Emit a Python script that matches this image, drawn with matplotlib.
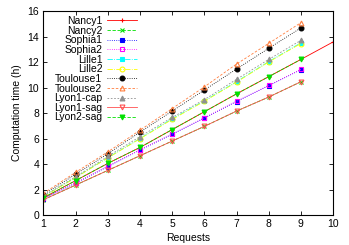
import matplotlib.pyplot as plt

# =========================
# DATA
# =========================

REQUESTS = [1, 2, 3, 4, 5, 6, 7, 8, 9]
REQUESTS_NANCY1 = [1, 2, 3, 4, 5, 6, 7, 8, 9, 10]

NANCY1 = [1.35, 2.7, 4.05, 5.3, 6.7, 8.1, 9.5, 10.85, 12.2, 13.57]
NANCY2 = [1.2, 2.35, 3.5, 4.65, 5.8, 6.95, 8.15, 9.25, 10.45]
SOPHIA1 = [1.28, 2.5, 3.8, 5.1, 6.33, 7.6, 8.9, 10.14, 11.4]
SOPHIA2 = [1.3, 2.52, 3.82, 5.12, 6.35, 7.62, 8.92, 10.16, 11.42]
LILLE1 = [1.45, 2.95, 4.5, 6.0, 7.55, 8.95, 10.46, 12.03, 13.5]
LILLE2 = [1.44, 2.93, 4.48, 5.98, 7.5, 8.92, 10.42, 12.0, 13.45]
TOULOUSE1 = [1.6, 3.2, 4.8, 6.5, 8.15, 9.8, 11.45, 13.07, 14.67]
TOULOUSE2 = [1.7, 3.35, 4.95, 6.65, 8.35, 10.05, 11.84, 13.46, 15.08]
LYON1_CAP = [1.5, 3.0, 4.6, 6.15, 7.65, 9.05, 10.64, 12.2, 13.7]
LYON1_SAG = [1.2, 2.35, 3.5, 4.65, 5.8, 6.95, 8.15, 9.25, 10.45]
LYON2_SAG = [1.35, 2.7, 4.05, 5.3, 6.7, 8.1, 9.5, 10.85, 12.2]

# =========================
# PLOT
# =========================

plt.rcParams["font.family"] = ["Liberation Sans", "DejaVu Sans"]

fig = plt.figure(figsize=(3.49, 2.45), dpi=100)
ax = fig.add_axes([0.1246, 0.1224, 0.8296, 0.8327])

ms = 3.5
lw = 0.6

series = [
    (REQUESTS_NANCY1, NANCY1, "Nancy1", "#ff0000", "-", "+", "full"),
    (REQUESTS, NANCY2, "Nancy2", "#00e000", (0, (4, 2)), "x", "full"),
    (REQUESTS, SOPHIA1, "Sophia1", "#0000ff", ":", "s", "full"),
    (REQUESTS, SOPHIA2, "Sophia2", "#ff00ff", ":", "s", "none"),
    (REQUESTS, LILLE1, "Lille1", "#00ffff", "-.", "s", "full"),
    (REQUESTS, LILLE2, "Lille2", "#ffff00", "-.", "o", "none"),
    (REQUESTS, TOULOUSE1, "Toulouse1", "#000000", ":", "o", "full"),
    (REQUESTS, TOULOUSE2, "Toulouse2", "#ff7f3f", (0, (3, 2)), "^", "none"),
    (REQUESTS, LYON1_CAP, "Lyon1-cap", "#909090", (0, (2, 2)), "^", "full"),
    (REQUESTS, LYON1_SAG, "Lyon1-sag", "#ff5050", "-", "v", "none"),
    (REQUESTS, LYON2_SAG, "Lyon2-sag", "#00e000", (0, (4, 2)), "v", "full"),
]

for x, y, label, color, ls, marker, fill in series:
    ax.plot(
        x, y,
        color=color,
        linestyle=ls,
        linewidth=lw,
        marker=marker,
        markersize=ms,
        fillstyle=fill,
        markeredgewidth=0.8,
        label=label
    )

ax.set_xlim(1, 10)
ax.set_ylim(0, 16)
ax.set_xticks(range(1, 11))
ax.set_yticks(range(0, 17, 2))

ax.tick_params(
    direction="in",
    top=True,
    right=True,
    labelsize=7.5,
    length=3,
    width=0.6,
    pad=3
)

for spine in ax.spines.values():
    spine.set_linewidth(0.8)

ax.set_xlabel("Requests", fontsize=7.5, labelpad=3)
ax.set_ylabel("Computation time (h)", fontsize=7.5, labelpad=4)

ax.legend(
    loc="upper right",
    bbox_to_anchor=(0.33, 0.985),
    fontsize=7.5,
    frameon=False,
    markerfirst=False,
    handlelength=2.9,
    handletextpad=0.4,
    labelspacing=-0.035,
    borderpad=0.2,
    borderaxespad=0.0
)

fig.savefig("out.png", dpi=100, facecolor="white")
